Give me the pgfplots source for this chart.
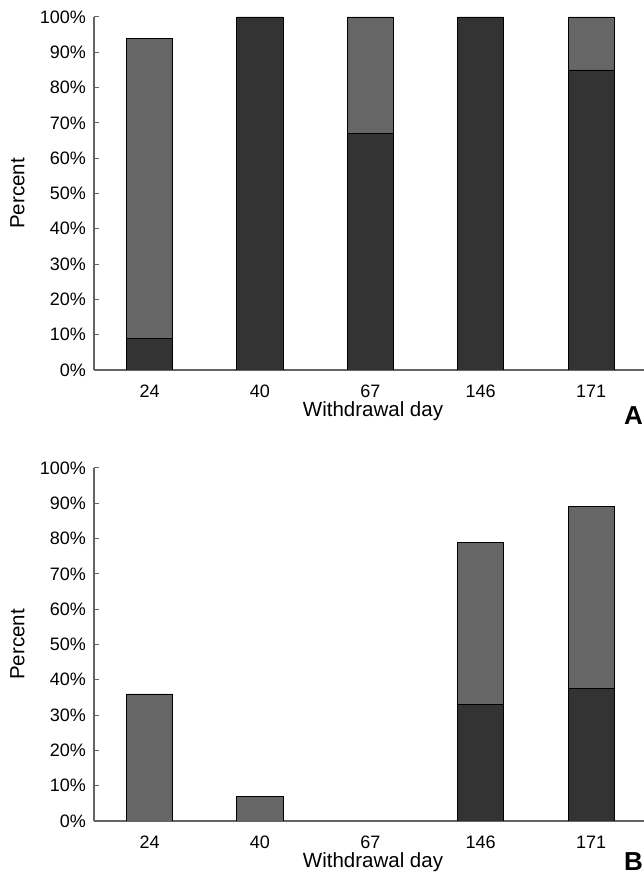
\documentclass[border=0pt]{standalone}
\usepackage{pgfplots}
\pgfplotsset{compat=1.18}
\usepackage{fontspec}
\setmainfont{Liberation Sans}
\definecolor{darkbar}{RGB}{51,51,51}
\definecolor{graybar}{RGB}{102,102,102}
\definecolor{axgray}{RGB}{100,100,100}
\pgfplotsset{
  panel/.style={
    scale only axis, width=550pt, height=353pt,
    xmin=-0.503, xmax=4.48, ymin=0, ymax=100,
    axis x line*=bottom, axis y line*=left,
    axis line style={axgray, line width=1.2pt},
    ytick={0,10,20,30,40,50,60,70,80,90,100},
    yticklabels={0\%,10\%,20\%,30\%,40\%,50\%,60\%,70\%,80\%,90\%,100\%},
    xtick={0,1,2,3,4}, xticklabels={24,40,67,146,171},
    x tick style={draw=none},
    y tick style={axgray, line width=1pt},
    tick align=inside, major tick length=5pt,
    ticklabel style={font=\fontsize{18}{20}\selectfont},
    yticklabel style={anchor=east, inner sep=0pt, xshift=-8pt},
    xticklabel style={anchor=north, inner sep=0pt, yshift=-9.5pt},
    xlabel={Withdrawal day}, ylabel={Percent},
    label style={font=\fontsize{20.5}{24}\selectfont},
    xlabel style={at={(axis description cs:0.5073,-0.1331)}, anchor=base},
    ylabel style={at={(axis description cs:-0.1391,0.5)}, anchor=center},
    ybar, bar width=0.417,
  },
  darkb/.style={fill=darkbar, draw=black, line width=0.8pt, bar shift=0pt},
  grayb/.style={fill=graybar, draw=black, line width=0.8pt, bar shift=0pt},
}
\begin{document}
\begin{tikzpicture}
\useasboundingbox (0,0) rectangle (644pt,877pt);
\clip (0,0) rectangle (644pt,877pt);
% Panel A
\begin{axis}[panel, at={(94pt,507pt)}, anchor=south west]
  % totals (dark + gray)
  \addplot[grayb] coordinates {(0,94) (2,100) (4,100)};
  % dark part
  \addplot[darkb] coordinates {(0,9) (1,100) (2,67) (3,100) (4,85)};
\end{axis}
\node[anchor=base east, inner sep=0pt, font=\bfseries\fontsize{26}{30}\selectfont] at (643pt,452pt) {A};
% Panel B
\begin{axis}[panel, at={(94pt,56pt)}, anchor=south west]
  \addplot[grayb] coordinates {(0,36) (1,7) (3,79) (4,89)};
  \addplot[darkb] coordinates {(3,33) (4,37.5)};
\end{axis}
\node[anchor=base east, inner sep=0pt, font=\bfseries\fontsize{26}{30}\selectfont] at (643pt,6pt) {B};
\end{tikzpicture}
\end{document}
